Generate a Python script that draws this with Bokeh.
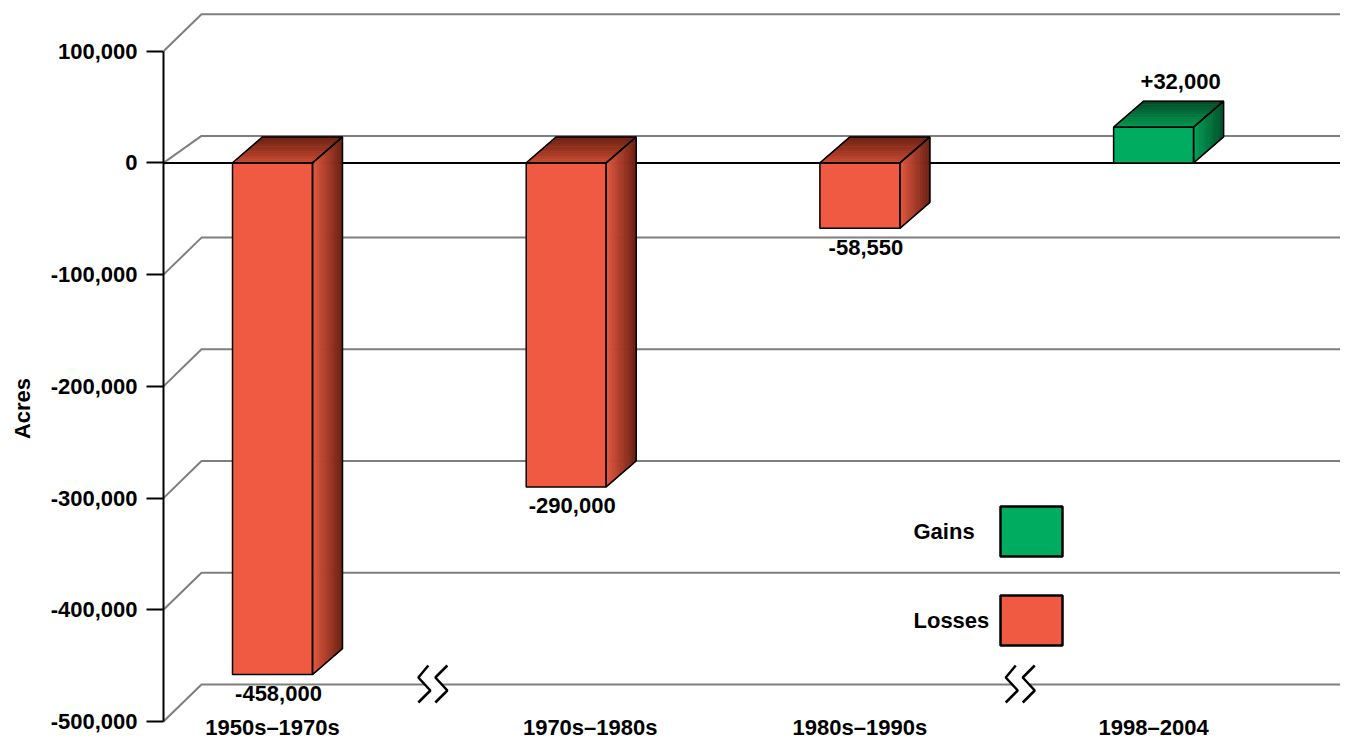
import math
from bokeh.plotting import figure
from bokeh.layouts import row
from bokeh.models import FixedTicker, NumeralTickFormatter, Range1d, Label
from bokeh.core.properties import value
from bokeh.embed import file_html
from bokeh.resources import INLINE

# ---------------- data ----------------
categories = ["1950s\u20131970s", "1970s\u20131980s", "1980s\u20131990s", "1998\u20132004"]
acres = [-458000, -290000, -58550, 32000]
y_ticks = [100000, 0, -100000, -200000, -300000, -400000, -500000]
legend_labels = ["Gains", "Losses"]
axis_title = "Acres"

# ---------------- layout helpers (picture pixel -> data) ----------------
W, H = 1340, 740
TITLE_W = 40           # narrow strip holding the rotated axis title
AXIS_X = 163           # picture x of the value axis line
PXI = 293.7            # px per category step
PXA = 0.0011172        # px per acre
X0_REF, Y0_REF = 272.0, 162.4
CAT_NUDGE_PX = [0, 24, 0, 0]


def xd(px):
    return (px - X0_REF) / PXI


def yd(py):
    return (Y0_REF - py) / PXA


def dxd(px):
    return px / PXI


def dyd(px):
    return px / PXA


FONT = "Liberation Sans"
FS = "22px"

# ---------------- title strip ----------------
t = figure(width=TITLE_W, height=H, output_backend="svg", toolbar_location=None,
           x_range=Range1d(0, TITLE_W), y_range=Range1d(H, 0),
           x_axis_location=None, y_axis_location=None,
           min_border_left=0, min_border_right=0, min_border_top=0, min_border_bottom=0)
t.outline_line_color = None
t.grid.grid_line_color = None
t.add_layout(Label(x=21.5, y=408, text=axis_title, angle=math.pi / 2,
                   text_align="center", text_baseline="middle",
                   text_font=FONT, text_font_style="bold", text_font_size=FS,
                   text_color="black"))

# ---------------- main plot ----------------
p = figure(width=W - TITLE_W, height=H, output_backend="svg", toolbar_location=None,
           x_range=Range1d(xd(AXIS_X), xd(W)),
           y_range=Range1d(yd(H), yd(0)),
           x_axis_location=None,
           min_border_left=AXIS_X - TITLE_W, min_border_right=0, min_border_top=0, min_border_bottom=0)
p.outline_line_color = None
p.grid.grid_line_color = None
p.background_fill_color = "white"
p.border_fill_color = "white"

ax = p.yaxis[0]
ax.ticker = FixedTicker(ticks=y_ticks)
ax.formatter = NumeralTickFormatter(format="0,0")
ax.bounds = (min(y_ticks), max(y_ticks))
ax.axis_line_width = 2
ax.axis_line_color = "black"
ax.major_tick_line_width = 2
ax.major_tick_line_color = "black"
ax.major_tick_out = 17
ax.major_tick_in = 0
ax.minor_tick_line_color = None
ax.major_label_text_font = FONT
ax.major_label_text_font_style = "bold"
ax.major_label_text_font_size = FS
ax.major_label_text_color = "black"
ax.major_label_standoff = 9

# ---------------- back wall grid ----------------
x_axis = xd(AXIS_X)
x_end = xd(W + 20)
gx, gy = [], []
for tv in y_ticks:
    wdy = dyd(27 if tv == 0 else 37)
    gx.append([x_axis, x_axis + dxd(38), x_end])
    gy.append([tv, tv + wdy, tv + wdy])
p.multi_line(gx, gy, line_color="#7f7f7f", line_width=2)
p.line([x_axis, x_end], [0, 0], line_color="black", line_width=2)

# ---------------- 3D bars ----------------
half = dxd(40)
ddx, ddy = dxd(30), dyd(26)
N = 14


def hex2rgb(h):
    h = h.lstrip("#")
    return tuple(int(h[i:i + 2], 16) for i in (0, 2, 4))


def lerp(c0, c1, f):
    a, b = hex2rgb(c0), hex2rgb(c1)
    return "#%02x%02x%02x" % tuple(int(round(a[k] + (b[k] - a[k]) * f)) for k in range(3))


RED = dict(front="#F15A42", s0="#E6583F", s1="#6A2012", t0="#CC4A33", t1="#6A2010")
GREEN = dict(front="#00AC5F", s0="#00A258", s1="#004F28", t0="#009B52", t1="#004B25")

sx, sy, sc = [], [], []
fl, fr, fb, ft, fc = [], [], [], [], []
ox, oy = [], []
for i, v in enumerate(acres):
    pal = GREEN if v > 0 else RED
    xl, xr = i - half, i + half
    bot, top = min(0, v), max(0, v)
    fl.append(xl); fr.append(xr); fb.append(bot); ft.append(top); fc.append(pal["front"])
    for k in range(N):
        t0, t1 = k / N, (k + 1) / N
        sx.append([xr + t0 * ddx, xr + t1 * ddx, xr + t1 * ddx, xr + t0 * ddx])
        sy.append([bot + t0 * ddy, bot + t1 * ddy, top + t1 * ddy, top + t0 * ddy])
        sc.append(lerp(pal["s0"], pal["s1"], (k + 0.5) / N))
        sx.append([xl + t0 * ddx, xr + t0 * ddx, xr + t1 * ddx, xl + t1 * ddx])
        sy.append([top + t0 * ddy, top + t0 * ddy, top + t1 * ddy, top + t1 * ddy])
        sc.append(lerp(pal["t0"], pal["t1"], (k + 0.5) / N))
    ox += [[xr, xr + ddx, xr + ddx, xr], [xl, xr, xr + ddx, xl + ddx]]
    oy += [[bot, bot + ddy, top + ddy, top], [top, top, top + ddy, top + ddy]]

p.patches(sx, sy, fill_color=sc, line_color=sc, line_width=0.8)
p.quad(left=fl, right=fr, bottom=fb, top=ft, fill_color=fc, line_color="black", line_width=1.5)
p.patches(ox, oy, fill_alpha=0, line_color="black", line_width=1.5)

# ---------------- value labels ----------------
lx, ly, lt = [], [], []
for i, v in enumerate(acres):
    if v < 0:
        lx.append(i + dxd(6)); ly.append(v - dyd(19))
    else:
        lx.append(i + dxd(27)); ly.append(v + ddy + dyd(20))
    lt.append(f"{v:+,}" if v > 0 else f"{v:,}")
p.text(x=lx, y=ly, text=lt, text_align="center", text_baseline="middle",
       text_font=value(FONT), text_font_style="bold", text_font_size=FS, text_color="black")

# ---------------- category labels ----------------
p.text(x=[i + dxd(n) for i, n in enumerate(CAT_NUDGE_PX[:len(categories)])],
       y=[min(y_ticks) - dyd(6)] * len(categories), text=categories,
       text_align="center", text_baseline="middle",
       text_font=value(FONT), text_font_style="bold", text_font_size=FS, text_color="black")

# ---------------- axis break marks ----------------
zig1 = [(-4, -19), (-14, -7), (-2, 6), (-14, 18)]
zig2 = [(15, -19), (3, -7), (15, 6), (3, 18)]
bx, by, wx, wy = [], [], [], []
yb = min(y_ticks) + dyd(37)
for c in [0, 2]:
    xc = c + 0.5 + dxd(13)
    z1x = [xc + dxd(a) for a, b in zig1]; z1y = [yb - dyd(b) for a, b in zig1]
    z2x = [xc + dxd(a) for a, b in zig2]; z2y = [yb - dyd(b) for a, b in zig2]
    wx.append(z1x + z2x[::-1]); wy.append(z1y + z2y[::-1])
    bx += [z1x, z2x]; by += [z1y, z2y]
p.patches(wx, wy, fill_color="white", line_color=None)
p.multi_line(bx, by, line_color="black", line_width=2.5)

# ---------------- legend ----------------
p.quad(left=[xd(1000)] * 2, right=[xd(1062)] * 2,
       top=[yd(506), yd(595)], bottom=[yd(556), yd(645)],
       fill_color=[GREEN["front"], RED["front"]], line_color="black", line_width=2.5)
p.text(x=[xd(913)] * 2, y=[yd(531), yd(620)], text=legend_labels,
       text_align="left", text_baseline="middle",
       text_font=value(FONT), text_font_style="bold", text_font_size=FS, text_color="black")

layout = row(t, p, spacing=0)
open("out.html", "w").write(file_html(layout, INLINE))
